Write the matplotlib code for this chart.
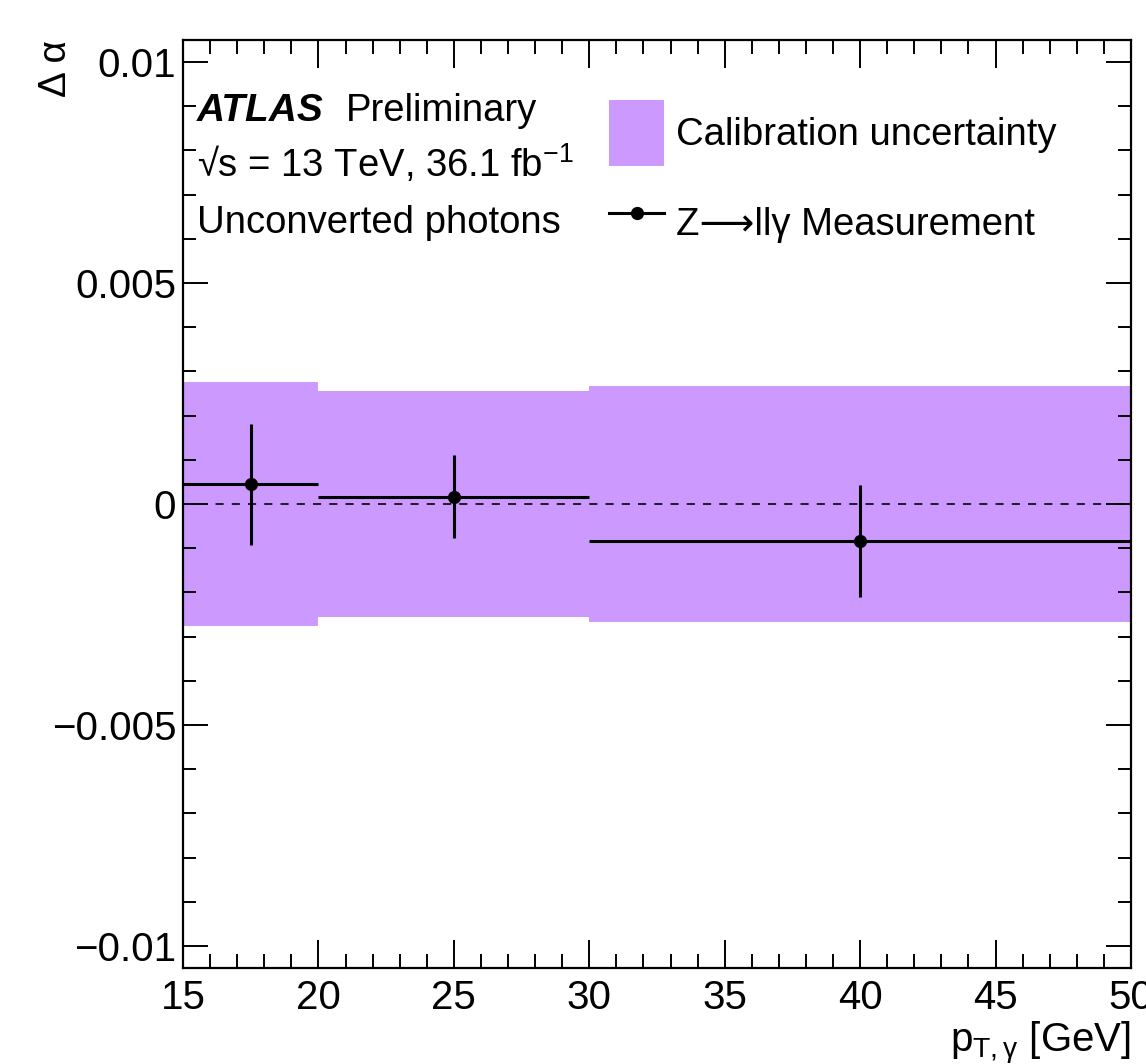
import matplotlib
matplotlib.use("Agg")
import matplotlib.pyplot as plt
from matplotlib.patches import Patch
from matplotlib.lines import Line2D
from matplotlib.ticker import MultipleLocator, FixedLocator, FixedFormatter
import numpy as np

plt.rcParams['font.family'] = ['Liberation Sans', 'DejaVu Sans']
plt.rcParams['mathtext.fontset'] = 'custom'
plt.rcParams['mathtext.rm'] = 'Liberation Sans'
plt.rcParams['mathtext.it'] = 'Liberation Sans:italic'
plt.rcParams['mathtext.bf'] = 'Liberation Sans:bold'

# Data
bin_edges = [15, 20, 30, 50]
point_x = [17.5, 25, 40]
delta_alpha = [0.00045, 0.00016, -0.00084]
stat_err = [0.00137, 0.00094, 0.00127]
calib_unc = [0.00276, 0.00255, 0.00266]
yticks = [-0.01, -0.005, 0, 0.005, 0.01]
ytick_labels = ["\u22120.01", "\u22120.005", "0", "0.005", "0.01"]
xticks = [15, 20, 25, 30, 35, 40, 45, 50]

W, H = 1146, 1064
fig = plt.figure(figsize=(W/100, H/100), dpi=100)
ax = fig.add_axes([183/W, 1-968/H, (1131-183)/W, (968-40)/H])

edges = np.array(bin_edges)
widths = np.diff(edges)
cu = np.array(calib_unc)
ax.bar(edges[:-1], 2*cu, bottom=-cu, width=widths, align='edge',
       color='#CC99FF', edgecolor='none', zorder=1)

ax.axhline(0, color='#111111', lw=1.3, dashes=(4.5, 4.5), zorder=2)

px = np.array(point_x)
xerr_lo = px - edges[:-1]
xerr_hi = edges[1:] - px
ax.errorbar(point_x, delta_alpha, yerr=stat_err, xerr=[xerr_lo, xerr_hi],
            fmt='o', color='black', ms=8.5, elinewidth=2.2, capsize=0, zorder=3)

ax.set_xlim(15, 50)
ax.set_ylim(-0.0105, 0.0105)

ax.xaxis.set_major_locator(FixedLocator(xticks))
ax.xaxis.set_minor_locator(MultipleLocator(1))
ax.yaxis.set_major_locator(FixedLocator(yticks))
ax.yaxis.set_major_formatter(FixedFormatter(ytick_labels))
ax.yaxis.set_minor_locator(MultipleLocator(0.001))

ax.tick_params(axis='both', which='both', direction='in', top=True, right=True,
               width=1.4, colors='black')
ax.tick_params(axis='x', which='major', length=20, labelsize=29, pad=8)
ax.tick_params(axis='x', which='minor', length=10)
ax.tick_params(axis='y', which='major', length=18, labelsize=29, pad=5)
ax.tick_params(axis='y', which='minor', length=9.4)
for s in ax.spines.values():
    s.set_linewidth(1.6)

# Axis labels
fig.text(1131/W, 1-1052/H, r"p$_{\mathregular{T,\gamma}}$ [GeV]", ha='right',
         va='baseline', fontsize=29)
fig.text(38/W, 1-40/H, "\u0394 \u03b1", rotation=90, ha='left', va='top', fontsize=28)

# ATLAS text
fig.text(197/W, 1-121/H, "ATLAS", fontsize=28, fontweight='bold', fontstyle='italic',
         va='baseline', ha='left')
fig.text(346/W, 1-121/H, "Preliminary", fontsize=27.5, va='baseline', ha='left')
fig.text(197/W, 1-177/H, "\u221as = 13 TeV, 36.1 fb$^{\\mathregular{-1}}$",
         fontsize=27.5, va='baseline', ha='left')
fig.text(197/W, 1-233/H, "Unconverted photons", fontsize=27.5, va='baseline', ha='left')

# Legend
handles = [Patch(facecolor='#CC99FF', edgecolor='none'),
           Line2D([0], [0], color='black', lw=2.2, marker='o', ms=8.5)]
labels = ["Calibration uncertainty", "Z\u27f6ll\u03b3 Measurement"]
leg = fig.legend(handles, labels, loc='upper left', bbox_to_anchor=(609/W, 1-100/H),
                 frameon=False, fontsize=27.5, handlelength=1.45, handleheight=2.3,
                 handletextpad=0.3, labelspacing=0.62, borderpad=0, borderaxespad=0)

fig.savefig("out.png", dpi=100)
